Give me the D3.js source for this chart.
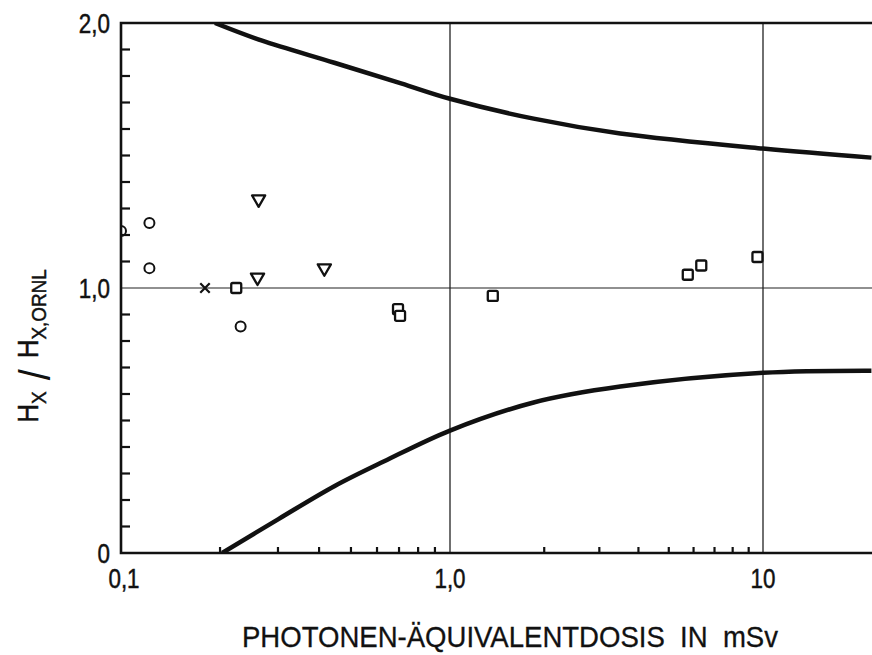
<!DOCTYPE html>
<html>
<head>
<meta charset="utf-8">
<script src="https://cdn.jsdelivr.net/npm/d3@7"></script>
<style>
  html, body { margin: 0; padding: 0; background: #fff; }
  svg { display: block; }
  text { font-family: "Liberation Sans", Arial, sans-serif; fill: #111; stroke: #111; stroke-width: 0.5px; }
</style>
</head>
<body>
<div id="chart"></div>
<script>
const circleX = [0.1, 0.122, 0.122, 0.231];
const circleY = [1.215, 1.245, 1.075, 0.855];
const squareX = [0.224, 0.695, 0.705, 1.37, 5.75, 6.35, 9.6];
const squareY = [1.0, 0.92, 0.895, 0.97, 1.05, 1.085, 1.117];
const triangleX = [0.262, 0.26, 0.415];
const triangleY = [1.335, 1.04, 1.075];
const crossX = [0.18];
const crossY = [1.0];

// Grenzkurven
const upperX = [0.193, 0.267, 0.445, 0.71, 1.0, 1.85, 3.5, 10, 22.2];
const upperY = [2.0, 1.934, 1.85, 1.772, 1.714, 1.639, 1.583, 1.526, 1.492];
const lowerX = [0.203, 0.301, 0.445, 0.631, 1.0, 1.85, 3.5, 10, 22.2];
const lowerY = [0, 0.128, 0.252, 0.346, 0.462, 0.568, 0.628, 0.680, 0.688];

// Achsen
const xLabelValues = [0.1, 1, 10];
const xTickLabels = ["0,1", "1,0", "10"];
const xMinorTicks = [0.2, 0.3, 0.4, 0.5, 0.6, 0.7, 0.8, 0.9, 2, 3, 4, 5, 6, 7, 8, 9];
const xGridValues = [1, 10];
const yLabelValues = [0, 1, 2];
const yTickLabels = ["0", "1,0", "2,0"];
const yMinorTicks = [0.1, 0.2, 0.3, 0.4, 0.5, 0.6, 0.7, 0.8, 0.9, 1.1, 1.2, 1.3, 1.4, 1.5, 1.6, 1.7, 1.8, 1.9];
const xTitle = "PHOTONEN-ÄQUIVALENTDOSIS  IN  mSv";

const width = 872, height = 655;
const plotLeft = 121, plotTop = 23, plotBottom = 553;

const svg = d3.select("#chart").append("svg")
    .attr("width", width)
    .attr("height", height);

// Skala: log, leicht verzerrt wie im Original (Dekade 1..10 etwas kürzer)
const x = d3.scaleLog()
    .domain([0.1, 1, 10, 100])
    .range([plotLeft, 450, 763, 1076]);
const y = d3.scaleLinear()
    .domain([0, 2])
    .range([plotBottom, plotTop]);

svg.append("clipPath").attr("id", "plotclip")
  .append("rect")
    .attr("x", plotLeft).attr("y", plotTop)
    .attr("width", width - plotLeft).attr("height", plotBottom - plotTop);

// Gitterlinien
svg.append("line")
    .attr("x1", plotLeft).attr("x2", width)
    .attr("y1", y(1)).attr("y2", y(1))
    .attr("stroke", "#222").attr("stroke-width", 1.2);
svg.selectAll("line.vgrid")
    .data(xGridValues)
    .join("line")
    .attr("class", "vgrid")
    .attr("x1", d => x(d)).attr("x2", d => x(d))
    .attr("y1", plotTop).attr("y2", plotBottom)
    .attr("stroke", "#222").attr("stroke-width", 1.3);

// Nebenstriche
svg.selectAll("line.xtick")
    .data(xMinorTicks)
    .join("line")
    .attr("class", "xtick")
    .attr("x1", d => x(d)).attr("x2", d => x(d))
    .attr("y1", plotBottom).attr("y2", plotBottom - 6)
    .attr("stroke", "#111").attr("stroke-width", 2.2);
svg.selectAll("line.ytick")
    .data(yMinorTicks)
    .join("line")
    .attr("class", "ytick")
    .attr("x1", plotLeft).attr("x2", plotLeft + 9)
    .attr("y1", d => y(d)).attr("y2", d => y(d))
    .attr("stroke", "#111").attr("stroke-width", 2.2);

// Rahmen (links, unten, oben)
svg.append("path")
    .attr("d", `M${width},${plotTop}H${plotLeft}V${plotBottom}H${width}`)
    .attr("fill", "none")
    .attr("stroke", "#111")
    .attr("stroke-width", 2.6);

// Kurven
const line = d3.line()
    .x(d => x(d[0]))
    .y(d => y(d[1]))
    .curve(d3.curveCatmullRom.alpha(0.5));

const plot = svg.append("g").attr("clip-path", "url(#plotclip)");
plot.append("path")
    .attr("d", line(d3.zip(upperX, upperY)))
    .attr("fill", "none").attr("stroke", "#111").attr("stroke-width", 4.5);
plot.append("path")
    .attr("d", line(d3.zip(lowerX, lowerY)))
    .attr("fill", "none").attr("stroke", "#111").attr("stroke-width", 4.5);

// Symbole
plot.selectAll("circle.pt")
    .data(d3.zip(circleX, circleY))
    .join("circle")
    .attr("class", "pt")
    .attr("cx", d => x(d[0])).attr("cy", d => y(d[1]))
    .attr("r", 5)
    .attr("fill", "none").attr("stroke", "#111").attr("stroke-width", 2);

plot.selectAll("rect.pt")
    .data(d3.zip(squareX, squareY))
    .join("rect")
    .attr("class", "pt")
    .attr("x", d => x(d[0]) - 5).attr("y", d => y(d[1]) - 5)
    .attr("width", 10).attr("height", 10)
    .attr("rx", 1.5)
    .attr("fill", "#fff").attr("stroke", "#111").attr("stroke-width", 2.3);

const tri = d3.symbol().type(d3.symbolTriangle).size(75);
plot.selectAll("path.tri")
    .data(d3.zip(triangleX, triangleY))
    .join("path")
    .attr("class", "tri")
    .attr("d", tri)
    .attr("transform", d => `translate(${x(d[0])},${y(d[1])}) rotate(180)`)
    .attr("fill", "none").attr("stroke", "#111").attr("stroke-width", 2.3)
    .attr("stroke-linejoin", "round");

const crs = d3.symbol().type(d3.symbolX).size(60);
plot.selectAll("path.crs")
    .data(d3.zip(crossX, crossY))
    .join("path")
    .attr("class", "crs")
    .attr("d", crs)
    .attr("transform", d => `translate(${x(d[0])},${y(d[1])})`)
    .attr("fill", "none").attr("stroke", "#111").attr("stroke-width", 2.2);

// Beschriftung der Achsen
const sx = 0.8;
svg.selectAll("text.xlab")
    .data(xLabelValues)
    .join("text")
    .attr("class", "xlab")
    .attr("transform", d => `translate(${x(d) + (d === 0.1 ? 3 : 0)},${plotBottom + 35}) scale(${sx},1)`)
    .attr("text-anchor", "middle")
    .style("font-size", "28px")
    .text((d, i) => xTickLabels[i]);

svg.selectAll("text.ylab")
    .data(yLabelValues)
    .join("text")
    .attr("class", "ylab")
    .attr("transform", d => `translate(110,${y(d) + 10}) scale(${sx},1)`)
    .attr("text-anchor", "end")
    .style("font-size", "28px")
    .text((d, i) => yTickLabels[i]);

svg.append("text")
    .attr("x", 510).attr("y", 647)
    .attr("text-anchor", "middle")
    .attr("textLength", 536)
    .attr("lengthAdjust", "spacingAndGlyphs")
    .style("font-size", "30px")
    .style("white-space", "pre")
    .style("stroke-width", "0.3px")
    .text(xTitle);

// Y-Titel: H_X / H_X,ORNL
const yt = svg.append("text")
    .attr("transform", "translate(38,346) rotate(-90) scale(0.9,1)")
    .attr("text-anchor", "middle")
    .style("font-size", "29px");
yt.append("tspan").text("H");
yt.append("tspan").attr("dy", 8).style("font-size", "21px").text("X");
yt.append("tspan").attr("dy", 4).style("font-size", "44px").style("stroke-width", "0px").text(" / ");
yt.append("tspan").attr("dy", -12).text("H");
yt.append("tspan").attr("dy", 8).style("font-size", "21px").text("X,ORNL");
</script>
</body>
</html>
